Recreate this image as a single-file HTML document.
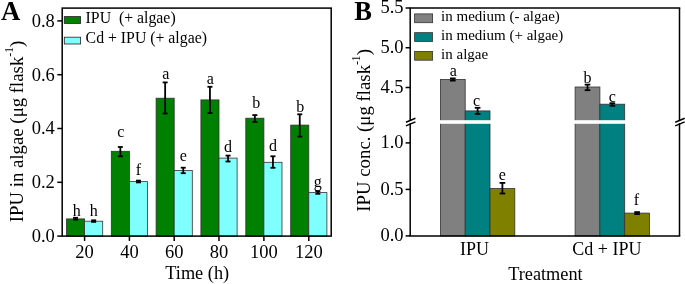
<!DOCTYPE html>
<html><head><meta charset="utf-8"><style>
html,body{margin:0;padding:0;background:#fff;}
body{width:685px;height:284px;overflow:hidden;}
svg{display:block;will-change:transform;font-family:"Liberation Serif", serif;}
text{fill:#000;}
</style></head><body>
<svg width="685" height="284" viewBox="0 0 685 284">
<rect x="66.5" y="218.9" width="18.1" height="17.2" fill="#008000" stroke="#333" stroke-width="0.8"/>
<rect x="84.6" y="221.2" width="18.1" height="14.9" fill="#80FFFF" stroke="#333" stroke-width="0.8"/>
<rect x="111.3" y="151.3" width="18.1" height="84.8" fill="#008000" stroke="#333" stroke-width="0.8"/>
<rect x="129.4" y="181.6" width="18.1" height="54.5" fill="#80FFFF" stroke="#333" stroke-width="0.8"/>
<rect x="156.1" y="98.2" width="18.1" height="137.9" fill="#008000" stroke="#333" stroke-width="0.8"/>
<rect x="174.2" y="170.4" width="18.1" height="65.7" fill="#80FFFF" stroke="#333" stroke-width="0.8"/>
<rect x="200.9" y="99.9" width="18.1" height="136.2" fill="#008000" stroke="#333" stroke-width="0.8"/>
<rect x="219.0" y="158.1" width="18.1" height="78.0" fill="#80FFFF" stroke="#333" stroke-width="0.8"/>
<rect x="245.8" y="118.2" width="18.1" height="117.9" fill="#008000" stroke="#333" stroke-width="0.8"/>
<rect x="263.9" y="162.3" width="18.1" height="73.8" fill="#80FFFF" stroke="#333" stroke-width="0.8"/>
<rect x="290.7" y="125.1" width="18.1" height="111.0" fill="#008000" stroke="#333" stroke-width="0.8"/>
<rect x="308.8" y="192.6" width="18.1" height="43.5" fill="#80FFFF" stroke="#333" stroke-width="0.8"/>
<line x1="75.55" y1="217.8" x2="75.55" y2="219.7" stroke="#000" stroke-width="1.8"/>
<line x1="73.05" y1="217.8" x2="78.05" y2="217.8" stroke="#000" stroke-width="1.8"/>
<line x1="73.05" y1="219.7" x2="78.05" y2="219.7" stroke="#000" stroke-width="1.8"/>
<line x1="93.65" y1="220.3" x2="93.65" y2="221.9" stroke="#000" stroke-width="1.8"/>
<line x1="91.15" y1="220.3" x2="96.15" y2="220.3" stroke="#000" stroke-width="1.8"/>
<line x1="91.15" y1="221.9" x2="96.15" y2="221.9" stroke="#000" stroke-width="1.8"/>
<line x1="120.35" y1="147.0" x2="120.35" y2="156.3" stroke="#000" stroke-width="1.8"/>
<line x1="117.85" y1="147.0" x2="122.85" y2="147.0" stroke="#000" stroke-width="1.8"/>
<line x1="117.85" y1="156.3" x2="122.85" y2="156.3" stroke="#000" stroke-width="1.8"/>
<line x1="138.45" y1="180.6" x2="138.45" y2="182.4" stroke="#000" stroke-width="1.8"/>
<line x1="135.95" y1="180.6" x2="140.95" y2="180.6" stroke="#000" stroke-width="1.8"/>
<line x1="135.95" y1="182.4" x2="140.95" y2="182.4" stroke="#000" stroke-width="1.8"/>
<line x1="165.15" y1="82.4" x2="165.15" y2="113.5" stroke="#000" stroke-width="1.8"/>
<line x1="162.65" y1="82.4" x2="167.65" y2="82.4" stroke="#000" stroke-width="1.8"/>
<line x1="162.65" y1="113.5" x2="167.65" y2="113.5" stroke="#000" stroke-width="1.8"/>
<line x1="183.25" y1="167.7" x2="183.25" y2="173.2" stroke="#000" stroke-width="1.8"/>
<line x1="180.75" y1="167.7" x2="185.75" y2="167.7" stroke="#000" stroke-width="1.8"/>
<line x1="180.75" y1="173.2" x2="185.75" y2="173.2" stroke="#000" stroke-width="1.8"/>
<line x1="209.95" y1="86.8" x2="209.95" y2="113.1" stroke="#000" stroke-width="1.8"/>
<line x1="207.45" y1="86.8" x2="212.45" y2="86.8" stroke="#000" stroke-width="1.8"/>
<line x1="207.45" y1="113.1" x2="212.45" y2="113.1" stroke="#000" stroke-width="1.8"/>
<line x1="228.05" y1="155.6" x2="228.05" y2="161.5" stroke="#000" stroke-width="1.8"/>
<line x1="225.55" y1="155.6" x2="230.55" y2="155.6" stroke="#000" stroke-width="1.8"/>
<line x1="225.55" y1="161.5" x2="230.55" y2="161.5" stroke="#000" stroke-width="1.8"/>
<line x1="254.85" y1="115.1" x2="254.85" y2="121.9" stroke="#000" stroke-width="1.8"/>
<line x1="252.35" y1="115.1" x2="257.35" y2="115.1" stroke="#000" stroke-width="1.8"/>
<line x1="252.35" y1="121.9" x2="257.35" y2="121.9" stroke="#000" stroke-width="1.8"/>
<line x1="272.95" y1="156.3" x2="272.95" y2="167.8" stroke="#000" stroke-width="1.8"/>
<line x1="270.45" y1="156.3" x2="275.45" y2="156.3" stroke="#000" stroke-width="1.8"/>
<line x1="270.45" y1="167.8" x2="275.45" y2="167.8" stroke="#000" stroke-width="1.8"/>
<line x1="299.75" y1="114.3" x2="299.75" y2="136.6" stroke="#000" stroke-width="1.8"/>
<line x1="297.25" y1="114.3" x2="302.25" y2="114.3" stroke="#000" stroke-width="1.8"/>
<line x1="297.25" y1="136.6" x2="302.25" y2="136.6" stroke="#000" stroke-width="1.8"/>
<line x1="317.85" y1="191.2" x2="317.85" y2="193.8" stroke="#000" stroke-width="1.8"/>
<line x1="315.35" y1="191.2" x2="320.35" y2="191.2" stroke="#000" stroke-width="1.8"/>
<line x1="315.35" y1="193.8" x2="320.35" y2="193.8" stroke="#000" stroke-width="1.8"/>
<text x="76.75" y="215.6" font-size="16" text-anchor="middle" font-weight="normal" >h</text>
<text x="93.65" y="216.0" font-size="16" text-anchor="middle" font-weight="normal" >h</text>
<text x="120.85" y="136.7" font-size="16" text-anchor="middle" font-weight="normal" >c</text>
<text x="138.45" y="174.7" font-size="16" text-anchor="middle" font-weight="normal" >f</text>
<text x="165.85" y="79.0" font-size="16" text-anchor="middle" font-weight="normal" >a</text>
<text x="183.25" y="161.1" font-size="16" text-anchor="middle" font-weight="normal" >e</text>
<text x="210.25" y="83.9" font-size="16" text-anchor="middle" font-weight="normal" >a</text>
<text x="228.05" y="152.2" font-size="16" text-anchor="middle" font-weight="normal" >d</text>
<text x="256.35" y="108.0" font-size="16" text-anchor="middle" font-weight="normal" >b</text>
<text x="272.95" y="151.1" font-size="16" text-anchor="middle" font-weight="normal" >d</text>
<text x="300.35" y="111.6" font-size="16" text-anchor="middle" font-weight="normal" >b</text>
<text x="317.85" y="186.6" font-size="16" text-anchor="middle" font-weight="normal" >g</text>
<rect x="62.2" y="8.1" width="269.0" height="228.0" fill="none" stroke="#000" stroke-width="1.5"/>
<line x1="57.3" y1="236.1" x2="62.2" y2="236.1" stroke="#000" stroke-width="1.5"/>
<text x="54.8" y="242.0" font-size="18.5" text-anchor="end" font-weight="normal" >0.0</text>
<line x1="57.3" y1="182.3" x2="62.2" y2="182.3" stroke="#000" stroke-width="1.5"/>
<text x="54.8" y="188.2" font-size="18.5" text-anchor="end" font-weight="normal" >0.2</text>
<line x1="57.3" y1="128.5" x2="62.2" y2="128.5" stroke="#000" stroke-width="1.5"/>
<text x="54.8" y="134.4" font-size="18.5" text-anchor="end" font-weight="normal" >0.4</text>
<line x1="57.3" y1="74.7" x2="62.2" y2="74.7" stroke="#000" stroke-width="1.5"/>
<text x="54.8" y="80.6" font-size="18.5" text-anchor="end" font-weight="normal" >0.6</text>
<line x1="57.3" y1="20.9" x2="62.2" y2="20.9" stroke="#000" stroke-width="1.5"/>
<text x="54.8" y="26.8" font-size="18.5" text-anchor="end" font-weight="normal" >0.8</text>
<line x1="84.6" y1="236.1" x2="84.6" y2="240.9" stroke="#000" stroke-width="1.5"/>
<text x="84.6" y="257.9" font-size="18.5" text-anchor="middle" font-weight="normal" >20</text>
<line x1="129.4" y1="236.1" x2="129.4" y2="240.9" stroke="#000" stroke-width="1.5"/>
<text x="129.4" y="257.9" font-size="18.5" text-anchor="middle" font-weight="normal" >40</text>
<line x1="174.2" y1="236.1" x2="174.2" y2="240.9" stroke="#000" stroke-width="1.5"/>
<text x="174.2" y="257.9" font-size="18.5" text-anchor="middle" font-weight="normal" >60</text>
<line x1="219.0" y1="236.1" x2="219.0" y2="240.9" stroke="#000" stroke-width="1.5"/>
<text x="219.0" y="257.9" font-size="18.5" text-anchor="middle" font-weight="normal" >80</text>
<line x1="263.9" y1="236.1" x2="263.9" y2="240.9" stroke="#000" stroke-width="1.5"/>
<text x="263.9" y="257.9" font-size="18.5" text-anchor="middle" font-weight="normal" >100</text>
<line x1="308.8" y1="236.1" x2="308.8" y2="240.9" stroke="#000" stroke-width="1.5"/>
<text x="308.8" y="257.9" font-size="18.5" text-anchor="middle" font-weight="normal" >120</text>
<text x="197.2" y="279.3" font-size="18.3" text-anchor="middle" font-weight="normal" >Time (h)</text>
<text transform="translate(22.6,222.2) rotate(-90)" font-size="18.8" text-anchor="start">IPU in algae (μg flask<tspan dy="-10" font-size="11.5">-1</tspan><tspan dy="10">)</tspan></text>
<rect x="64.3" y="16.6" width="16.3" height="6.8" fill="#008000" stroke="#222" stroke-width="0.8"/>
<rect x="64.3" y="37.2" width="16.3" height="6.8" fill="#80FFFF" stroke="#222" stroke-width="0.8"/>
<text x="85.6" y="22.6" font-size="15.8" text-anchor="start" font-weight="normal" >IPU&#160;&#160;(+ algae)</text>
<text x="85.6" y="43.4" font-size="15.8" text-anchor="start" font-weight="normal" >Cd + IPU (+ algae)</text>
<text x="1.0" y="20.1" font-size="26.8" text-anchor="start" font-weight="bold" >A</text>
<rect x="440.4" y="79.4" width="24.8" height="156.6" fill="#808080" stroke="#333" stroke-width="0.8"/>
<rect x="465.2" y="110.9" width="24.8" height="125.1" fill="#008080" stroke="#333" stroke-width="0.8"/>
<rect x="490.0" y="188.5" width="24.8" height="47.5" fill="#808000" stroke="#333" stroke-width="0.8"/>
<rect x="575.1" y="87.0" width="24.8" height="149.0" fill="#808080" stroke="#333" stroke-width="0.8"/>
<rect x="599.9" y="104.2" width="24.8" height="131.8" fill="#008080" stroke="#333" stroke-width="0.8"/>
<rect x="624.7" y="213.1" width="24.8" height="22.9" fill="#808000" stroke="#333" stroke-width="0.8"/>
<line x1="452.8" y1="78.4" x2="452.8" y2="80.6" stroke="#000" stroke-width="1.8"/>
<line x1="449.95" y1="78.4" x2="455.65" y2="78.4" stroke="#000" stroke-width="1.8"/>
<line x1="449.95" y1="80.6" x2="455.65" y2="80.6" stroke="#000" stroke-width="1.8"/>
<line x1="477.6" y1="107.8" x2="477.6" y2="113.9" stroke="#000" stroke-width="1.8"/>
<line x1="474.75" y1="107.8" x2="480.45" y2="107.8" stroke="#000" stroke-width="1.8"/>
<line x1="474.75" y1="113.9" x2="480.45" y2="113.9" stroke="#000" stroke-width="1.8"/>
<line x1="502.4" y1="182.9" x2="502.4" y2="193.5" stroke="#000" stroke-width="1.8"/>
<line x1="499.55" y1="182.9" x2="505.25" y2="182.9" stroke="#000" stroke-width="1.8"/>
<line x1="499.55" y1="193.5" x2="505.25" y2="193.5" stroke="#000" stroke-width="1.8"/>
<line x1="587.5" y1="84.6" x2="587.5" y2="90.2" stroke="#000" stroke-width="1.8"/>
<line x1="584.65" y1="84.6" x2="590.35" y2="84.6" stroke="#000" stroke-width="1.8"/>
<line x1="584.65" y1="90.2" x2="590.35" y2="90.2" stroke="#000" stroke-width="1.8"/>
<line x1="612.3" y1="103.2" x2="612.3" y2="105.8" stroke="#000" stroke-width="1.8"/>
<line x1="609.45" y1="103.2" x2="615.15" y2="103.2" stroke="#000" stroke-width="1.8"/>
<line x1="609.45" y1="105.8" x2="615.15" y2="105.8" stroke="#000" stroke-width="1.8"/>
<line x1="637.1" y1="212.1" x2="637.1" y2="214.1" stroke="#000" stroke-width="1.8"/>
<line x1="634.25" y1="212.1" x2="639.95" y2="212.1" stroke="#000" stroke-width="1.8"/>
<line x1="634.25" y1="214.1" x2="639.95" y2="214.1" stroke="#000" stroke-width="1.8"/>
<rect x="411.2" y="120.2" width="267.3" height="3.6" fill="#fff"/>
<text x="453.4" y="75.5" font-size="16" text-anchor="middle" font-weight="normal" >a</text>
<text x="476.5" y="106.0" font-size="16" text-anchor="middle" font-weight="normal" >c</text>
<text x="502.4" y="179.9" font-size="16" text-anchor="middle" font-weight="normal" >e</text>
<text x="587.5" y="83.0" font-size="16" text-anchor="middle" font-weight="normal" >b</text>
<text x="612.3" y="101.8" font-size="16" text-anchor="middle" font-weight="normal" >c</text>
<text x="636.5" y="204.6" font-size="16" text-anchor="middle" font-weight="normal" >f</text>
<line x1="409.45" y1="8.0" x2="680.25" y2="8.0" stroke="#000" stroke-width="1.5"/>
<line x1="409.45" y1="236.0" x2="680.25" y2="236.0" stroke="#000" stroke-width="1.5"/>
<line x1="410.2" y1="8.0" x2="410.2" y2="121.0" stroke="#000" stroke-width="1.5"/>
<line x1="410.2" y1="123.2" x2="410.2" y2="236.0" stroke="#000" stroke-width="1.5"/>
<line x1="679.5" y1="8.0" x2="679.5" y2="121.0" stroke="#000" stroke-width="1.5"/>
<line x1="679.5" y1="123.2" x2="679.5" y2="236.0" stroke="#000" stroke-width="1.5"/>
<line x1="405.9" y1="122.2" x2="415.4" y2="118.2" stroke="#000" stroke-width="1.5"/>
<line x1="405.9" y1="125.9" x2="415.4" y2="121.9" stroke="#000" stroke-width="1.5"/>
<line x1="675.2" y1="122.2" x2="684.7" y2="118.2" stroke="#000" stroke-width="1.5"/>
<line x1="675.2" y1="125.9" x2="684.7" y2="121.9" stroke="#000" stroke-width="1.5"/>
<line x1="405.6" y1="8.0" x2="410.2" y2="8.0" stroke="#000" stroke-width="1.5"/>
<text x="403.6" y="13.4" font-size="18.5" text-anchor="end" font-weight="normal" >5.5</text>
<line x1="405.6" y1="47.75" x2="410.2" y2="47.75" stroke="#000" stroke-width="1.5"/>
<text x="403.6" y="53.15" font-size="18.5" text-anchor="end" font-weight="normal" >5.0</text>
<line x1="405.6" y1="87.5" x2="410.2" y2="87.5" stroke="#000" stroke-width="1.5"/>
<text x="403.6" y="92.9" font-size="18.5" text-anchor="end" font-weight="normal" >4.5</text>
<line x1="405.6" y1="142.9" x2="410.2" y2="142.9" stroke="#000" stroke-width="1.5"/>
<text x="403.6" y="148.3" font-size="18.5" text-anchor="end" font-weight="normal" >1.0</text>
<line x1="405.6" y1="189.4" x2="410.2" y2="189.4" stroke="#000" stroke-width="1.5"/>
<text x="403.6" y="194.8" font-size="18.5" text-anchor="end" font-weight="normal" >0.5</text>
<line x1="405.6" y1="235.9" x2="410.2" y2="235.9" stroke="#000" stroke-width="1.5"/>
<text x="403.6" y="241.3" font-size="18.5" text-anchor="end" font-weight="normal" >0.0</text>
<text x="474.4" y="255.2" font-size="18" text-anchor="middle" font-weight="normal" >IPU</text>
<text x="606.9" y="255.2" font-size="18" text-anchor="middle" font-weight="normal" >Cd + IPU</text>
<text x="545.4" y="279.9" font-size="18.3" text-anchor="middle" font-weight="normal" >Treatment</text>
<text transform="translate(369.7,211.7) rotate(-90)" font-size="18.8" text-anchor="start">IPU conc. (μg flask<tspan dy="-10" font-size="11.5">-1</tspan><tspan dy="10">)</tspan></text>
<rect x="414.6" y="13.9" width="18.0" height="8.8" fill="#808080" stroke="#333" stroke-width="0.8"/>
<text x="441.1" y="21.2" font-size="15" text-anchor="start" font-weight="normal" >in medium (- algae)</text>
<rect x="414.6" y="32.65" width="18.0" height="8.8" fill="#008080" stroke="#333" stroke-width="0.8"/>
<text x="441.1" y="39.95" font-size="15" text-anchor="start" font-weight="normal" >in medium (+ algae)</text>
<rect x="414.6" y="51.4" width="18.0" height="8.8" fill="#808000" stroke="#333" stroke-width="0.8"/>
<text x="441.1" y="58.7" font-size="15" text-anchor="start" font-weight="normal" >in algae</text>
<text x="354.2" y="20.3" font-size="26.5" text-anchor="start" font-weight="bold" >B</text>
</svg>
</body></html>
